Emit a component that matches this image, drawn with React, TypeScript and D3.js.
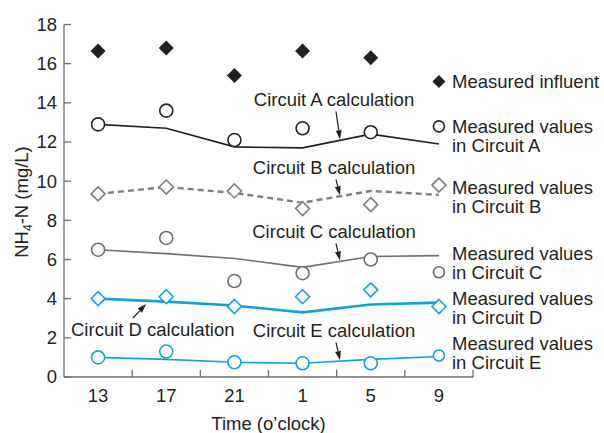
import React, { useEffect, useRef } from 'react'
import * as d3 from 'd3'

// Data
const times = ['13', '17', '21', '1', '5', '9']
const yTicks = [0, 2, 4, 6, 8, 10, 12, 14, 16, 18]

const influent = [16.65, 16.8, 15.4, 16.65, 16.3]
const measuredA = [12.9, 13.6, 12.1, 12.7, 12.5, 12.8]
const calcA = [12.9, 12.7, 11.75, 11.7, 12.4, 11.9]
const measuredB = [9.35, 9.7, 9.5, 8.6, 8.8, 9.8]
const calcB = [9.35, 9.7, 9.4, 8.9, 9.5, 9.3]
const measuredC = [6.5, 7.1, 4.9, 5.3, 6.0, 5.35]
const calcC = [6.5, 6.3, 6.05, 5.6, 6.15, 6.2]
const measuredD = [4.0, 4.1, 3.6, 4.1, 4.45, 3.6]
const calcD = [4.0, 3.85, 3.65, 3.3, 3.7, 3.8]
const measuredE = [1.0, 1.3, 0.75, 0.7, 0.7, 1.1]
const calcE = [1.0, 0.9, 0.75, 0.7, 0.9, 1.05]

const BLACK = '#231f20'
const GRAY = '#6d6e71'
const BLUE = '#10a2df'
const FONT = 'Liberation Sans, Arial, sans-serif'
const FS = 18.5

export default function App() {
  const ref = useRef<SVGSVGElement>(null)

  useEffect(() => {
    const svg = d3.select(ref.current)
    svg.selectAll('*').remove()

    const width = 604
    const height = 433

    // Scales
    const xScale = d3.scaleBand().domain(times).range([64, 473])
    const yScale = d3.scaleLinear().domain([0, 18]).range([377, 24.5])
    const xc = (t: string) => (xScale(t) as number) + xScale.bandwidth() / 2

    svg.attr('width', width).attr('height', height)

    // Axes
    svg.append('line')
      .attr('x1', 64).attr('x2', 64)
      .attr('y1', yScale(18)).attr('y2', yScale(0))
      .attr('stroke', GRAY).attr('stroke-width', 1.3)
    svg.append('line')
      .attr('x1', 64).attr('x2', 473)
      .attr('y1', yScale(0)).attr('y2', yScale(0))
      .attr('stroke', GRAY).attr('stroke-width', 1.3)

    yTicks.forEach(v => {
      svg.append('line')
        .attr('x1', 64).attr('x2', 71)
        .attr('y1', yScale(v)).attr('y2', yScale(v))
        .attr('stroke', GRAY).attr('stroke-width', 1.3)
      svg.append('text')
        .text(v)
        .attr('x', 57).attr('y', yScale(v)).attr('dy', '0.35em')
        .attr('text-anchor', 'end')
        .attr('font-family', FONT).attr('font-size', FS)
        .attr('fill', BLACK)
    })

    // x ticks at band boundaries
    times.forEach((t, i) => {
      if (i > 0) {
        const x = xScale(t) as number
        svg.append('line')
          .attr('x1', x).attr('x2', x)
          .attr('y1', yScale(0)).attr('y2', yScale(0) - 7)
          .attr('stroke', GRAY).attr('stroke-width', 1.3)
      }
      svg.append('text')
        .text(t)
        .attr('x', xc(t)).attr('y', 401.5)
        .attr('text-anchor', 'middle')
        .attr('font-family', FONT).attr('font-size', FS)
        .attr('fill', BLACK)
    })
    svg.append('line')
      .attr('x1', 473).attr('x2', 473)
      .attr('y1', yScale(0)).attr('y2', yScale(0) - 7)
      .attr('stroke', GRAY).attr('stroke-width', 1.3)

    // Axis titles
    svg.append('text')
      .text('Time (o\u2019clock)')
      .attr('x', 268.5).attr('y', 429.5)
      .attr('text-anchor', 'middle')
      .attr('font-family', FONT).attr('font-size', FS)
      .attr('fill', BLACK)

    const yTitle = svg.append('text')
      .attr('transform', 'translate(28, 202) rotate(-90)')
      .attr('text-anchor', 'middle')
      .attr('font-family', FONT).attr('font-size', FS)
      .attr('fill', BLACK)
    yTitle.append('tspan').text('NH')
    yTitle.append('tspan').text('4').attr('font-size', 12).attr('dy', 4)
    yTitle.append('tspan').text('-N (mg/L)').attr('dy', -4)

    // Calculation lines
    const lineGen = d3.line<number>()
      .x((d, i) => xc(times[i]))
      .y(d => yScale(d))

    const lines = [
      { data: calcA, color: BLACK, w: 1.6, dash: null },
      { data: calcB, color: '#7d7e80', w: 2.4, dash: '6,4' },
      { data: calcC, color: GRAY, w: 1.6, dash: null },
      { data: calcD, color: BLUE, w: 2.6, dash: null },
      { data: calcE, color: BLUE, w: 1.6, dash: null },
    ]
    lines.forEach(l => {
      svg.append('path')
        .attr('d', lineGen(l.data))
        .attr('fill', 'none')
        .attr('stroke', l.color)
        .attr('stroke-width', l.w)
        .attr('stroke-dasharray', l.dash)
    })

    // Markers
    const diamond = (x: number, y: number, r: number) =>
      `M${x},${y - r}L${x + r},${y}L${x},${y + r}L${x - r},${y}Z`

    influent.forEach((v, i) => {
      svg.append('path')
        .attr('d', diamond(xc(times[i]), yScale(v), 7.5))
        .attr('fill', BLACK)
    })
    // legend diamond for influent
    svg.append('path')
      .attr('d', diamond(xc('9'), 81.5, 6.5))
      .attr('fill', BLACK)

    const circles = [
      { data: measuredA, color: BLACK },
      { data: measuredC, color: GRAY },
      { data: measuredE, color: BLUE },
    ]
    circles.forEach(c => {
      c.data.forEach((v, i) => {
        svg.append('circle')
          .attr('cx', xc(times[i])).attr('cy', yScale(v))
          .attr('r', i === 5 ? 5.5 : 6.5)
          .attr('fill', '#fff')
          .attr('stroke', c.color).attr('stroke-width', 1.6)
      })
    })

    const diamonds = [
      { data: measuredB, color: '#7d7e80' },
      { data: measuredD, color: BLUE },
    ]
    diamonds.forEach(c => {
      c.data.forEach((v, i) => {
        svg.append('path')
          .attr('d', diamond(xc(times[i]), yScale(v), 7))
          .attr('fill', '#fff')
          .attr('stroke', c.color).attr('stroke-width', 1.6)
      })
    })

    // Calculation labels with arrows
    const interp = (arr: number[], x: number) => {
      const x0 = xc('1'), x1 = xc('5')
      const t = (x - x0) / (x1 - x0)
      return yScale(arr[3] + (arr[4] - arr[3]) * t)
    }

    const arrow = (x1: number, y1: number, x2: number, y2: number) => {
      const ang = Math.atan2(y2 - y1, x2 - x1)
      const len = 9, half = 3
      const bx = x2 - len * Math.cos(ang), by = y2 - len * Math.sin(ang)
      svg.append('line')
        .attr('x1', x1).attr('y1', y1).attr('x2', bx).attr('y2', by)
        .attr('stroke', BLACK).attr('stroke-width', 1.2)
      svg.append('path')
        .attr('d', `M${x2},${y2}L${bx + half * Math.sin(ang)},${by - half * Math.cos(ang)}L${bx - half * Math.sin(ang)},${by + half * Math.cos(ang)}Z`)
        .attr('fill', BLACK)
    }

    const labels = [
      { text: 'Circuit A calculation', y: 105.5, data: calcA },
      { text: 'Circuit B calculation', y: 173.5, data: calcB },
      { text: 'Circuit C calculation', y: 237.5, data: calcC },
      { text: 'Circuit E calculation', y: 336.5, data: calcE },
    ]
    labels.forEach(l => {
      svg.append('text')
        .text(l.text)
        .attr('x', 334).attr('y', l.y)
        .attr('text-anchor', 'middle')
        .attr('font-family', FONT).attr('font-size', FS)
        .attr('fill', BLACK)
      arrow(336, l.y + 6, 340, interp(l.data, 340) - 1)
    })

    svg.append('text')
      .text('Circuit D calculation')
      .attr('x', 71).attr('y', 335.5)
      .attr('font-family', FONT).attr('font-size', FS)
      .attr('fill', BLACK)
    arrow(133, 318, 146, 304)

    // Legend
    const legend = [
      { lines: ['Measured influent'], y: 87.5 },
      { lines: ['Measured values', 'in Circuit A'], y: 133 },
      { lines: ['Measured values', 'in Circuit B'], y: 193.5 },
      { lines: ['Measured values', 'in Circuit C'], y: 259.5 },
      { lines: ['Measured values', 'in Circuit D'], y: 304.5 },
      { lines: ['Measured values', 'in Circuit E'], y: 349.5 },
    ]
    legend.forEach(g => {
      g.lines.forEach((s, k) => {
        svg.append('text')
          .text(s)
          .attr('x', 452).attr('y', g.y + k * 19.3)
          .attr('font-family', FONT).attr('font-size', FS)
          .attr('fill', BLACK)
      })
    })
  }, [])

  return (
    <svg ref={ref} style={{ position: 'absolute', left: 0, top: 0 }} width={604} height={433} />
  )
}
